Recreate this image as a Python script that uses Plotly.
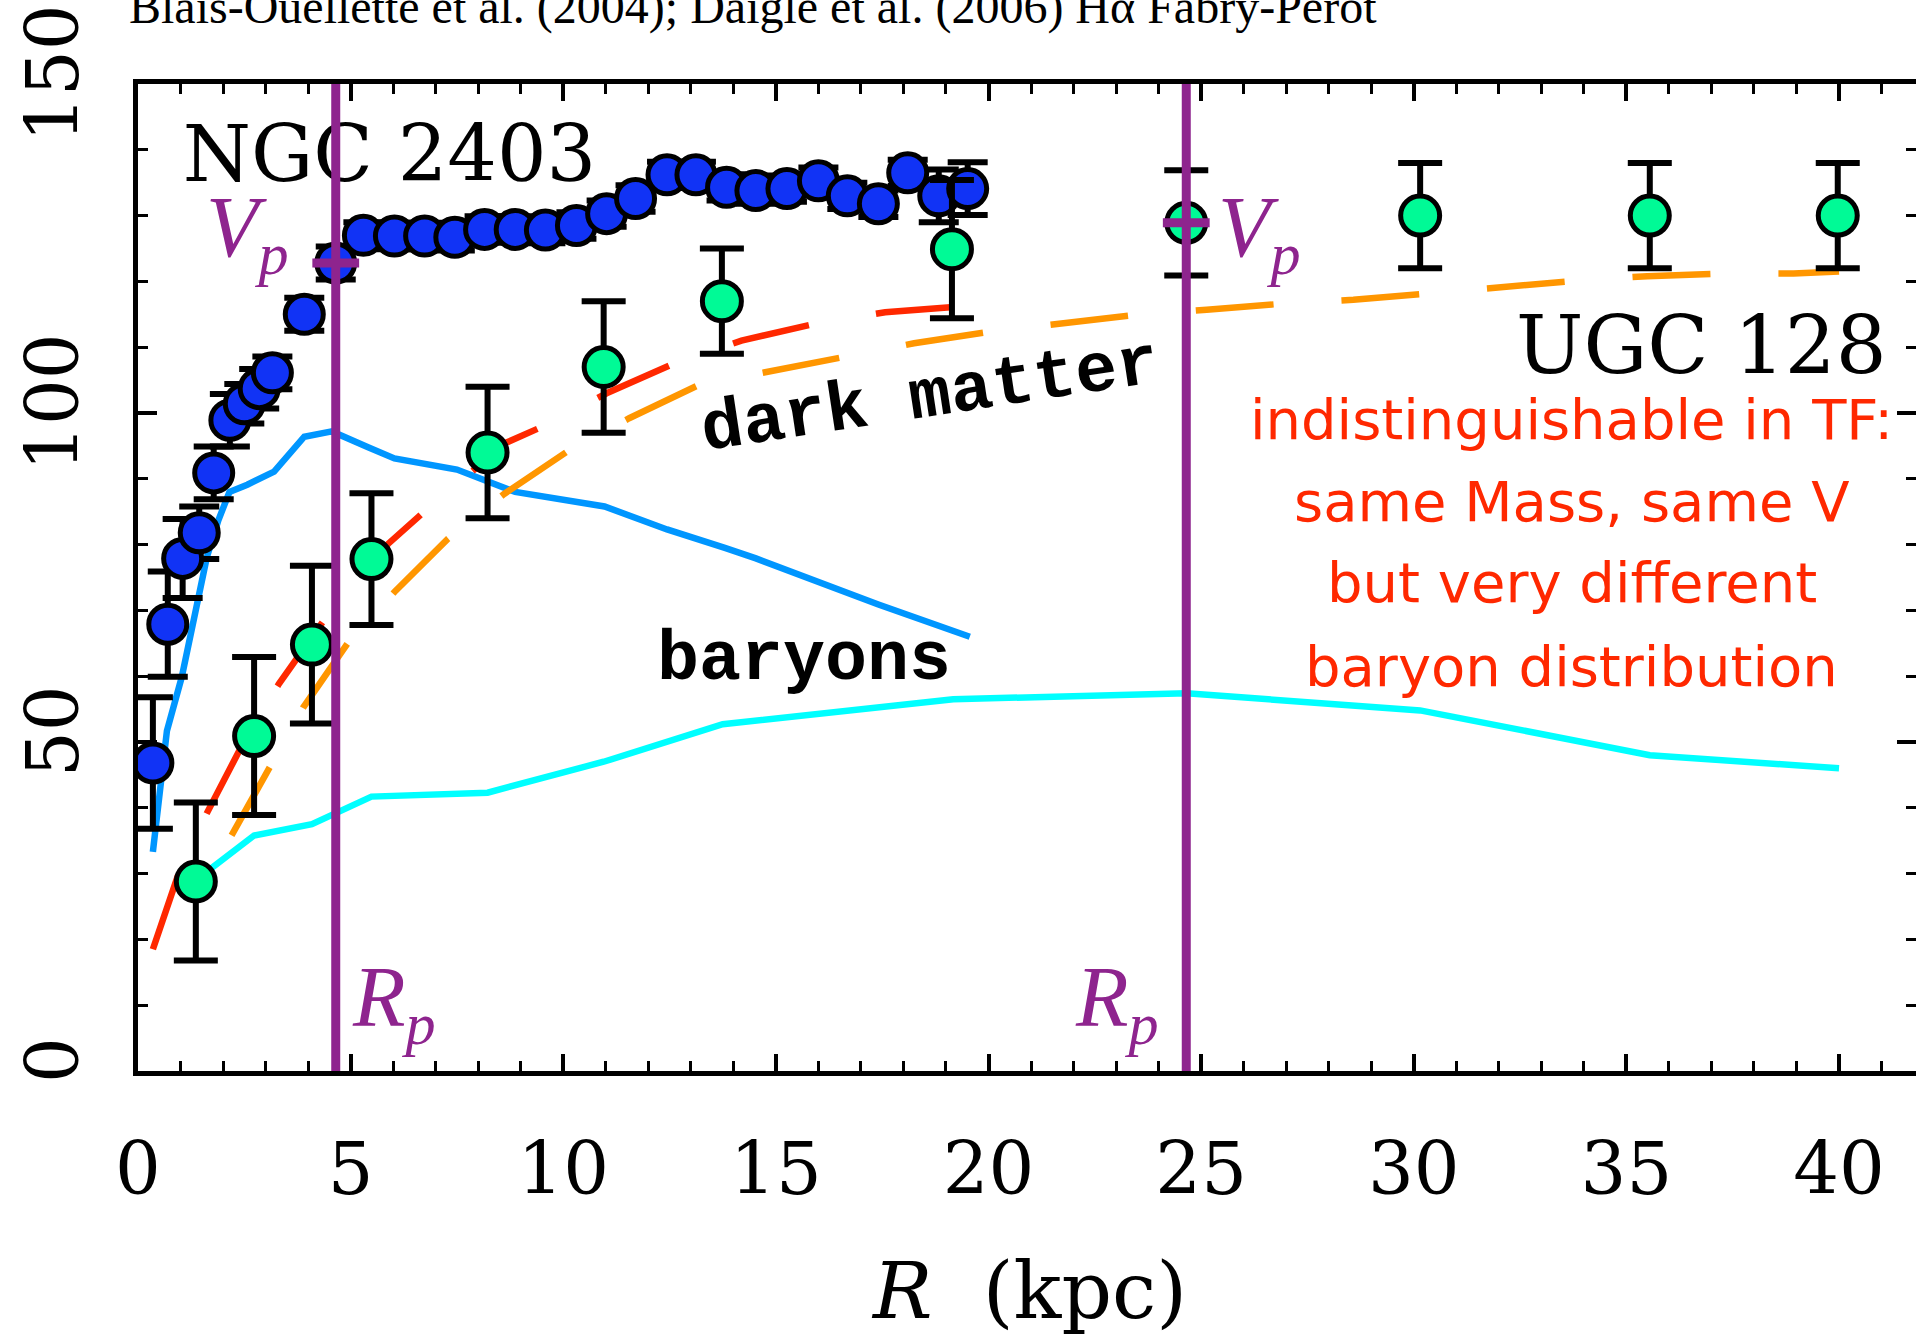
import plotly.graph_objects as go

# ---------------- data ----------------
# NGC 2403 rotation curve (blue points)
ngc_r = [0.35, 0.70, 1.05, 1.44, 1.78, 2.16, 2.50, 2.85, 3.16, 3.91, 4.65,
         5.30, 6.03, 6.74, 7.45, 8.15, 8.87, 9.58, 10.31, 11.02, 11.70,
         12.44, 13.12, 13.84, 14.53, 15.26, 16.00, 16.68, 17.41, 18.10, 18.83, 19.51]
ngc_v = [46.8, 67.9, 77.9, 81.8, 90.9, 98.9, 101.4, 103.7, 106.1, 115.0, 122.8,
         127.0, 126.9, 126.9, 126.7, 127.9, 127.9, 127.8, 128.5, 130.3, 132.6,
         136.2, 136.2, 134.3, 133.8, 134.1, 135.3, 133.0, 131.8, 136.5, 133.0, 134.1]
ngc_err = [10, 8, 6, 4, 4, 4, 3, 3, 2.5, 2.5, 2.5,
           2, 2, 2, 2, 2, 2, 2, 2, 2, 2,
           2, 2, 2, 2, 2, 2, 2, 2, 2, 4, 4]

# UGC 128 rotation curve (green points)
ugc_r = [1.36, 2.73, 4.09, 5.49, 8.22, 10.95, 13.73, 19.14, 24.65, 30.15, 35.55, 39.97]
ugc_v = [28.8, 50.9, 64.8, 77.8, 94.0, 107.0, 117.0, 124.9, 128.9, 130.0, 130.0, 130.0]
ugc_err = [12, 12, 12, 10, 10, 10, 8, 10.5, 8, 8, 8, 8]

# baryonic curves
ngc_bar_r = [0.35, 0.68, 1.03, 1.62, 1.89, 2.15, 2.57, 3.20, 3.91, 4.56, 5.41, 6.03,
             7.50, 8.87, 10.97, 12.44, 13.80, 14.53, 17.41, 19.56]
ngc_bar_v = [33.3, 51.7, 59.9, 78.1, 83.7, 88.0, 89.1, 91.1, 96.4, 97.2, 94.8, 93.1,
             91.4, 88.0, 85.8, 82.3, 79.5, 77.9, 70.9, 66.0]
ugc_bar_r = [1.36, 2.73, 4.09, 5.49, 8.22, 10.95, 13.75, 19.17, 24.66, 30.15, 35.55, 40.0]
ugc_bar_v = [29.0, 35.8, 37.5, 41.7, 42.3, 47.0, 52.7, 56.5, 57.4, 54.8, 48.0, 46.0]

# dark matter curves
ngc_dm_r = [0.35, 0.94, 1.62, 2.15, 2.52, 3.31, 4.35, 5.88, 6.66, 8.66, 9.50, 11.02,
            12.60, 14.19, 15.94, 17.57, 19.36]
ngc_dm_v = [18.5, 29.7, 39.2, 45.6, 50.4, 58.8, 68.3, 80.1, 84.6, 95.5, 97.9, 103.0,
            107.5, 111.0, 113.6, 115.3, 116.2]
ugc_dm_r = [2.20, 3.08, 3.88, 4.93, 6.03, 7.29, 8.61, 10.08, 11.55, 13.17, 14.85, 16.57,
            18.25, 19.99, 21.66, 23.45, 25.13, 26.88, 28.58, 30.34, 32.06, 33.83, 35.49,
            37.26, 38.93, 40.0]
ugc_dm_v = [35.8, 45.9, 55.2, 65.0, 72.8, 80.9, 87.7, 94.1, 99.2, 104.2, 106.3, 108.5,
            110.6, 112.3, 113.6, 114.9, 115.7, 116.6, 117.2, 118.2, 119.1, 120.1, 120.8,
            121.2, 121.2, 121.5]

# R_p / V_p markers
rp_values = [4.65, 24.65]
vp_values = [122.8, 128.9]

x_ticks = [0, 5, 10, 15, 20, 25, 30, 35, 40]
y_ticks = [0, 50, 100, 150]
y_ticklabels = ["0", "50", "100", "150"]

note_lines = ["indistinguishable in TF:", "same Mass, same V",
              "but very different", "baryon distribution"]

# ---------------- styling ----------------
PURPLE = "#8E248E"
RED = "#FF2800"
ORANGE = "#FF9600"
LIGHTBLUE = "#0096FF"
CYAN = "#00FFFF"
BLUE = "#1133F5"
GREEN = "#00FA96"
DASH = "78px,68px"

fig = go.Figure()

fig.add_trace(go.Scatter(x=ngc_bar_r, y=ngc_bar_v, mode="lines",
                         line=dict(color=LIGHTBLUE, width=6.5)))
fig.add_trace(go.Scatter(x=ugc_bar_r, y=ugc_bar_v, mode="lines",
                         line=dict(color=CYAN, width=6.5)))
fig.add_trace(go.Scatter(x=ngc_dm_r, y=ngc_dm_v, mode="lines",
                         line=dict(color=RED, width=6.5, dash=DASH)))
fig.add_trace(go.Scatter(x=ugc_dm_r, y=ugc_dm_v, mode="lines",
                         line=dict(color=ORANGE, width=6.5, dash=DASH)))

fig.add_trace(go.Scatter(x=[1.05], y=[138.2], mode="text", text=["NGC 2403"],
                         textposition="middle right",
                         textfont=dict(family="DejaVu Serif", size=78, color="black")))

fig.add_trace(go.Scatter(
    x=ngc_r, y=ngc_v, mode="markers",
    error_y=dict(type="data", array=ngc_err, color="black", thickness=6, width=20),
    marker=dict(color=BLUE, size=38, line=dict(color="black", width=5))))
fig.add_trace(go.Scatter(
    x=ugc_r, y=ugc_v, mode="markers",
    error_y=dict(type="data", array=ugc_err, color="black", thickness=6, width=22),
    marker=dict(color=GREEN, size=39, line=dict(color="black", width=5))))

shapes = []
for rp, vp in zip(rp_values, vp_values):
    shapes.append(dict(type="line", xref="x", yref="y", x0=rp, x1=rp, y0=0, y1=150,
                       line=dict(color=PURPLE, width=9), layer="above"))
    shapes.append(dict(type="line", xref="x", yref="y", x0=rp - 0.55, x1=rp + 0.55,
                       y0=vp, y1=vp, line=dict(color=PURPLE, width=9), layer="above"))

annotations = []
# V_p labels
annotations.append(dict(x=1.55, y=127.3, xref="x", yref="y", xanchor="left", yanchor="middle",
                        text="<i>V</i><sub><i>p</i></sub>", showarrow=False,
                        font=dict(family="Liberation Serif", size=86, color=PURPLE)))
annotations.append(dict(x=25.35, y=127.3, xref="x", yref="y", xanchor="left", yanchor="middle",
                        text="<i>V</i><sub><i>p</i></sub>", showarrow=False,
                        font=dict(family="Liberation Serif", size=86, color=PURPLE)))
# R_p labels
annotations.append(dict(x=4.98, y=10.3, xref="x", yref="y", xanchor="left", yanchor="middle",
                        text="<i>R</i><sub><i>p</i></sub>", showarrow=False,
                        font=dict(family="Liberation Serif", size=86, color=PURPLE)))
annotations.append(dict(x=21.98, y=10.3, xref="x", yref="y", xanchor="left", yanchor="middle",
                        text="<i>R</i><sub><i>p</i></sub>", showarrow=False,
                        font=dict(family="Liberation Serif", size=86, color=PURPLE)))
# galaxy name
annotations.append(dict(x=41.17, y=110.3, xref="x", yref="y", xanchor="right", yanchor="middle",
                        text="UGC 128", showarrow=False,
                        font=dict(family="DejaVu Serif", size=80, color="black")))
# component labels
annotations.append(dict(x=18.62, y=102.4, xref="x", yref="y", xanchor="center", yanchor="middle",
                        text="dark matter", showarrow=False, textangle=-8.6,
                        font=dict(family="Liberation Mono", size=70, color="black", weight="bold")))
annotations.append(dict(x=15.65, y=62.4, xref="x", yref="y", xanchor="center", yanchor="middle",
                        text="baryons", showarrow=False,
                        font=dict(family="Liberation Mono", size=70, color="black", weight="bold")))
# red note
for line_text, yv in zip(note_lines, [99.0, 86.6, 74.2, 61.5]):
    annotations.append(dict(x=33.72, y=yv, xref="x", yref="y", xanchor="center", yanchor="middle",
                            text=line_text, showarrow=False,
                            font=dict(family="DejaVu Sans", size=56, color=RED)))
# citation at top
annotations.append(dict(x=-0.0062, y=1.0485, xref="paper", yref="paper", xanchor="left",
                        yanchor="bottom",
                        text="Blais-Ouellette et al. (2004); Daigle et al. (2006) H\u03b1 Fabry-Perot",
                        showarrow=False,
                        font=dict(family="Liberation Serif", size=48, color="black")))
# x-axis title
annotations.append(dict(x=0.501, y=-0.223, xref="paper", yref="paper", xanchor="center",
                        yanchor="middle", text="<i>R</i>\u00a0\u00a0(kpc)", showarrow=False,
                        font=dict(family="DejaVu Serif", size=79, color="black")))

fig.update_layout(
    width=1916, height=1336,
    margin=dict(l=138, r=0, t=84, b=265),
    plot_bgcolor="white", paper_bgcolor="white",
    showlegend=False,
    shapes=shapes, annotations=annotations,
    xaxis=dict(range=[0, 41.81], showgrid=False, zeroline=False, automargin=False,
               showline=True, linewidth=4.5, linecolor="black", mirror="ticks",
               ticks="inside", ticklen=17, tickwidth=3.5, tickcolor="black",
               tickvals=x_ticks, ticktext=[str(v) for v in x_ticks],
               minor=dict(dtick=1, tick0=0, ticks="inside", ticklen=10, tickwidth=3,
                          tickcolor="black", showgrid=False),
               tickfont=dict(family="DejaVu Serif", size=72, color="black"),
               ticklabelstandoff=32),
    yaxis=dict(range=[0, 150], showgrid=False, zeroline=False, automargin=False,
               showline=True, linewidth=4.5, linecolor="black", mirror="ticks",
               ticks="inside", ticklen=19, tickwidth=3.5, tickcolor="black",
               tickvals=y_ticks, ticktext=y_ticklabels, tickangle=-90,
               minor=dict(dtick=10, tick0=0, ticks="inside", ticklen=10, tickwidth=3,
                          tickcolor="black", showgrid=False),
               tickfont=dict(family="DejaVu Serif", size=72, color="black"),
               ticklabelstandoff=26),
)

fig.write_html("out.html")
